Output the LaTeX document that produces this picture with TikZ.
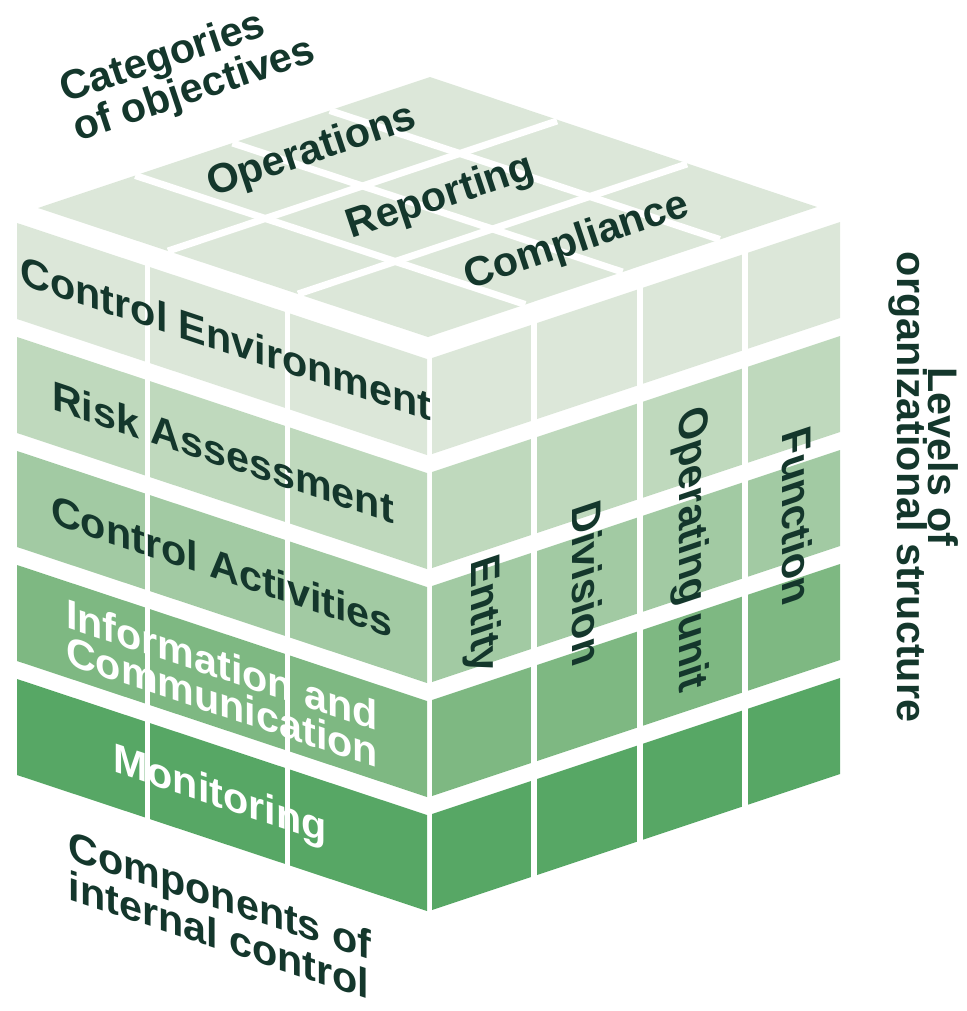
\documentclass[tikz,border=0pt]{standalone}
\usepackage{fontspec}
\setmainfont{Liberation Sans}
\usepackage{tikz}

\definecolor{ink}{HTML}{14372C}
\definecolor{rowA}{HTML}{DCE7D9}
\definecolor{rowB}{HTML}{BFD9BD}
\definecolor{rowC}{HTML}{A2CAA3}
\definecolor{rowD}{HTML}{7EB882}
\definecolor{rowE}{HTML}{57A765}

\tikzset{
  lbl/.style={font=\bfseries\fontsize{23.5}{21}\selectfont, text=ink, inner sep=0pt, align=center},
  frontlbl/.style={lbl, cm={1,-0.334,0,1,(0,0)}},
  sidelbl/.style={lbl, cm={0,-1,1,0.334,(0,0)}},
  toplbl/.style={lbl, rotate=18.5},
  gap/.style={white, line width=0.1cm},
}

\begin{document}
\begin{tikzpicture}[x=0.02cm, y=-0.02cm]
			\useasboundingbox (0,0) rectangle (967,1011);

			% top face
			\fill[rowA] (38,208) -- (430,77) -- (817,207) -- (428,337) -- cycle;
			\draw[gap, line width=0.14cm] (168,251) -- (557,121);
			\draw[gap, line width=0.14cm] (298,294) -- (687,164);
			\draw[gap, line width=0.14cm] (135.25,175.5) -- (525.25,304.5);
			\draw[gap, line width=0.14cm] (232.5,143) -- (622.5,272);
			\draw[gap, line width=0.14cm] (329.75,110.5) -- (719.75,239.5);

			% front face
			\fill[rowA] (17,223) -- (427,359) -- (427,455) -- (17,319) -- cycle;
			\fill[rowB] (17,337) -- (427,473) -- (427,569) -- (17,433) -- cycle;
			\fill[rowC] (17,451) -- (427,587) -- (427,683) -- (17,547) -- cycle;
			\fill[rowD] (17,565) -- (427,701) -- (427,797) -- (17,661) -- cycle;
			\fill[rowE] (17,679) -- (427,815) -- (427,911) -- (17,775) -- cycle;
			\draw[gap] (147.5,255) -- (147.5,830);
			\draw[gap] (287.5,300) -- (287.5,880);

			% right face
			\fill[rowA] (432,358) -- (840,222) -- (840,318) -- (432,454) -- cycle;
			\fill[rowB] (432,472) -- (840,336) -- (840,432) -- (432,568) -- cycle;
			\fill[rowC] (432,586) -- (840,450) -- (840,546) -- (432,682) -- cycle;
			\fill[rowD] (432,700) -- (840,564) -- (840,660) -- (432,796) -- cycle;
			\fill[rowE] (432,814) -- (840,678) -- (840,774) -- (432,910) -- cycle;
			\draw[gap, line width=0.12cm] (534,313) -- (534,890);
			\draw[gap, line width=0.12cm] (640,277) -- (640,860);
			\draw[gap, line width=0.12cm] (744.5,243) -- (744.5,820);

			\node[toplbl] (oper) at (312,152) {Operations};
			\node[toplbl] (report) at (441,198) {Reporting};
			\node[toplbl] (compl) at (577,242) {Compliance};

			\node[frontlbl] (ctrlenv) at (226,338) {Control Environment};
			\node[frontlbl] (riskass) at (223,452) {Risk Assessment};
			\node[frontlbl] (ctrlact) at (222,566) {Control Activities};
			\node[frontlbl, text=white] (infocom) at (222,683) {Information and\\Communication};
			\node[frontlbl, text=white] (monit) at (220,797) {Monitoring};

			\node[sidelbl] (entity) at (482,615) {Entity};
			\node[sidelbl] (division) at (587,583) {Division};
			\node[sidelbl] (opunit) at (690,550) {Operating unit};
			\node[sidelbl] (func) at (797,516) {Function};

			\node[toplbl, align=left] (categ) at (188,72) {Categories\\of objectives};
			\node[frontlbl, align=left] (compon) at (220,915) {Components of\\internal control};
			\node[lbl, rotate=-90] (levelsA) at (943,457) {Levels of};
			\node[lbl, rotate=-90] (levelsB) at (908,487) {organizational structure};
\end{tikzpicture}
\end{document}
